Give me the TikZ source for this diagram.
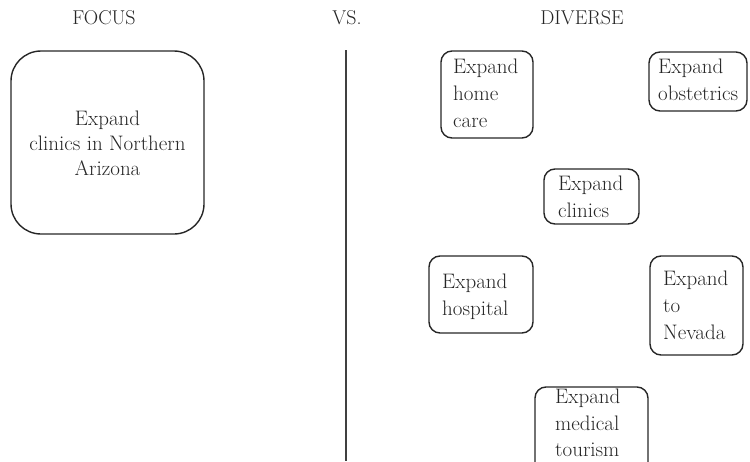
\documentclass[tikz,border=0pt]{standalone}
\begin{document}
\begin{tikzpicture}[x=1pt,y=-1pt,
  box/.style={draw=black!85, line width=1.4pt, rounded corners=11pt, inner sep=0pt, outer sep=0pt},
  bigbox/.style={box, rounded corners=30pt},
  txt/.style={inner sep=0pt, align=left, anchor=north west, font=\fontsize{21}{27}\selectfont, text=black!85},
  head/.style={inner sep=0pt, font=\fontsize{20}{24}\selectfont, text=black!85}
]
\useasboundingbox (0,0) rectangle (750,461);
\clip (0,0) rectangle (750,461);
% headers
\node[head] (focus) at (104,18) {FOCUS};
\node[head] (vs) at (347,18) {VS.};
\node[head] (diverse) at (582,18) {DIVERSE};
% divider
\coordinate (ltop) at (346,50);
\coordinate (lbot) at (346,461);
\draw[line width=1.2pt, black!75] (ltop) -- (lbot);
% focus box
\node[bigbox, minimum width=193pt, minimum height=183pt] (big) at (107.5,142.5) {};
\node[txt, align=center, anchor=north, font=\fontsize{21}{25}\selectfont] (bigt) at (107.5,110.4) {Expand\\clinics in Northern\\Arizona};
% diverse boxes
\node[box, minimum width=92pt, minimum height=87pt] (hc) at (487,94.5) {};
\node[txt] (hct) at (453,58.4) {Expand\\home\\care};
\node[box, minimum width=98pt, minimum height=59pt] (ob) at (698,81.5) {};
\node[txt] (obt) at (658,58.4) {Expand\\obstetrics};
\node[box, minimum width=95pt, minimum height=55pt] (cl) at (591.5,196.5) {};
\node[txt] (clt) at (558,175.4) {Expand\\clinics};
\node[box, minimum width=104pt, minimum height=77pt] (ho) at (481,294.5) {};
\node[txt] (hot) at (442,273.4) {Expand\\hospital};
\node[box, minimum width=93pt, minimum height=99pt] (nv) at (696.5,305.5) {};
\node[txt] (nvt) at (663,270.4) {Expand\\to\\Nevada};
\node[box, minimum width=113pt, minimum height=88pt] (mt) at (591.5,431) {};
\node[txt, font=\fontsize{21}{26.5}\selectfont] (mtt) at (555,389) {Expand\\medical\\tourism};
\end{tikzpicture}
\end{document}
